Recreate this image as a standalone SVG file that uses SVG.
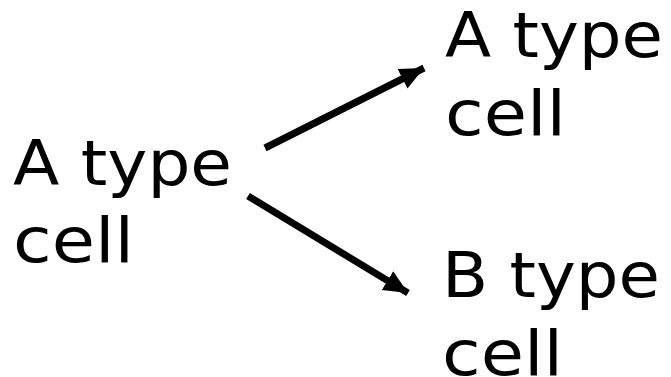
<svg xmlns="http://www.w3.org/2000/svg" width="671" height="377" viewBox="0 0 671 377">
<style>
text{font-family:"DejaVu Sans","Liberation Sans",sans-serif;font-size:62px;fill:#000}
.c{stroke:#000;stroke-width:7;fill:none}
</style>
<defs>
<marker id="ah" markerUnits="userSpaceOnUse" markerWidth="26" markerHeight="24" refX="24" refY="12" orient="auto">
<path d="M0,1 L24,12 L0,23 Z" fill="#000"/>
</marker>
</defs>
<rect width="671" height="377" fill="#fff"/>
<g id="connectors">
<line class="c" x1="265" y1="148" x2="424" y2="68" marker-end="url(#ah)"/>
<line class="c" x1="248" y1="196" x2="408" y2="293" marker-end="url(#ah)"/>
</g>
<g id="n-left">
<text x="13" y="185" textLength="219" lengthAdjust="spacingAndGlyphs">A type</text>
<text x="13" y="262" textLength="121" lengthAdjust="spacingAndGlyphs">cell</text>
</g>
<g id="n-topright">
<text x="445" y="57" textLength="218" lengthAdjust="spacingAndGlyphs">A type</text>
<text x="445" y="135" textLength="121" lengthAdjust="spacingAndGlyphs">cell</text>
</g>
<g id="n-bottomright">
<text x="442" y="297" textLength="218" lengthAdjust="spacingAndGlyphs">B type</text>
<text x="442" y="375" textLength="121" lengthAdjust="spacingAndGlyphs">cell</text>
</g>
</svg>
